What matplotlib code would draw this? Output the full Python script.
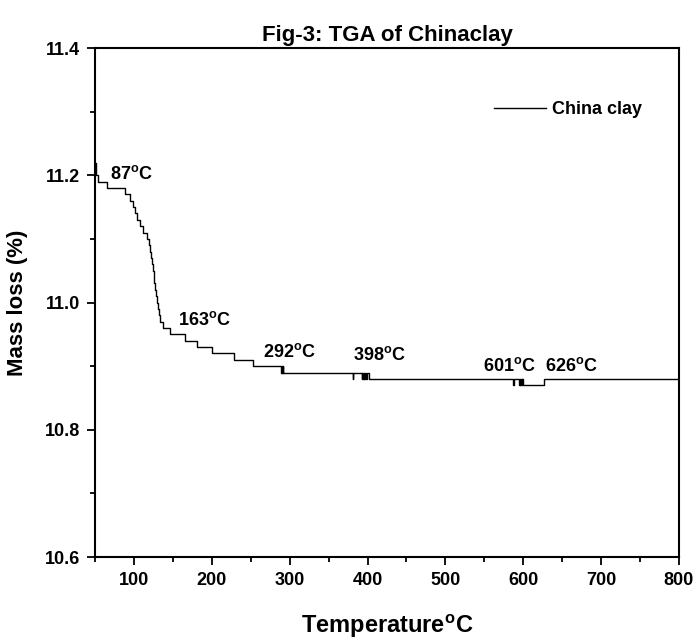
import numpy as np
import matplotlib
matplotlib.use("Agg")
import matplotlib.pyplot as plt

plt.rcParams['font.family'] = ['Liberation Sans', 'DejaVu Sans']
plt.rcParams['font.weight'] = 'bold'
plt.rcParams['mathtext.fontset'] = 'custom'
plt.rcParams['mathtext.rm'] = 'Liberation Sans:bold'
plt.rcParams['mathtext.it'] = 'Liberation Sans:bold'
plt.rcParams['mathtext.bf'] = 'Liberation Sans:bold'
plt.rcParams['mathtext.default'] = 'rm'

# step start temperatures (deg C) and mass readings (%)
temps = [50, 50.5, 51, 54.3, 65, 88.5, 95, 98.4, 101.4, 103.5, 107.8, 112,
         116.4, 119.3, 121, 122.3, 123.4, 124.4, 125.4, 126.4, 127.4, 128.4,
         129.4, 130.5, 131.8, 133.5, 137.7, 146.3, 165.6, 180.6, 200, 228,
         253.3, 289, 289.8, 290.6, 291.3, 292, 381, 381.7, 392.5, 393.3,
         394.2, 395, 396, 397, 398, 399, 402, 587, 587.6, 594.5, 595.3,
         596.2, 597, 598, 599, 600, 626.6, 800]
mass = [11.21, 11.22, 11.20, 11.19, 11.18, 11.17, 11.16, 11.15, 11.14, 11.13,
        11.12, 11.11, 11.10, 11.09, 11.08, 11.07, 11.06, 11.05, 11.04, 11.03,
        11.02, 11.01, 11.00, 10.99, 10.98, 10.97, 10.96, 10.95, 10.94, 10.93,
        10.92, 10.91, 10.90, 10.89, 10.90, 10.89, 10.90, 10.89, 10.88, 10.89,
        10.88, 10.89, 10.88, 10.89, 10.88, 10.89, 10.88, 10.89, 10.88, 10.87,
        10.88, 10.87, 10.88, 10.87, 10.88, 10.87, 10.88, 10.87, 10.88, 10.88]

# peak annotations: text, left x, centre y
peak_labels = ['87', '163', '292', '398', '601', '626']
peak_x = [69, 156.5, 265.5, 381, 548, 628]
peak_y = [11.202, 10.973, 10.923, 10.917, 10.900, 10.900]

DEG = r'$^{\mathregular{o}}$'

fig = plt.figure(figsize=(6.96, 6.43), dpi=100)
ax = fig.add_axes([0.1365, 0.1337, 0.839, 0.7916])

ax.step(temps, mass, where='post', color='black', linewidth=1.0,
        label='China clay')

for lab, x, y in zip(peak_labels, peak_x, peak_y):
    ax.text(x, y, lab + DEG + 'C', fontsize=13, fontweight='bold',
            ha='left', va='center')

ax.set_xlim(50, 800)
ax.set_ylim(10.6, 11.4)
ax.set_xticks(np.arange(100, 801, 100))
ax.set_xticks(np.arange(50, 801, 100), minor=True)
ax.set_yticks([10.6, 10.8, 11.0, 11.2, 11.4])
ax.set_yticks([10.7, 10.9, 11.1, 11.3], minor=True)
ax.set_yticklabels(['10.6', '10.8', '11.0', '11.2', '11.4'])

ax.tick_params(which='major', direction='out', length=6, width=1.3,
               labelsize=13, pad=5)
ax.tick_params(which='minor', direction='out', length=3.5, width=1.3)
for s in ax.spines.values():
    s.set_linewidth(1.5)

ax.set_xlabel('Temperature' + DEG + 'C', fontsize=17, fontweight='bold',
              labelpad=17)
ax.set_ylabel('Mass loss (%)', fontsize=16, fontweight='bold', labelpad=12)
ax.set_title('Fig-3: TGA of Chinaclay', fontsize=16, fontweight='bold',
             pad=5)

ax.legend(loc='lower left', bbox_to_anchor=(0.655, 0.83), frameon=False,
          fontsize=13, handlelength=2.9, handletextpad=0.35)

fig.savefig('out.png', dpi=100)
